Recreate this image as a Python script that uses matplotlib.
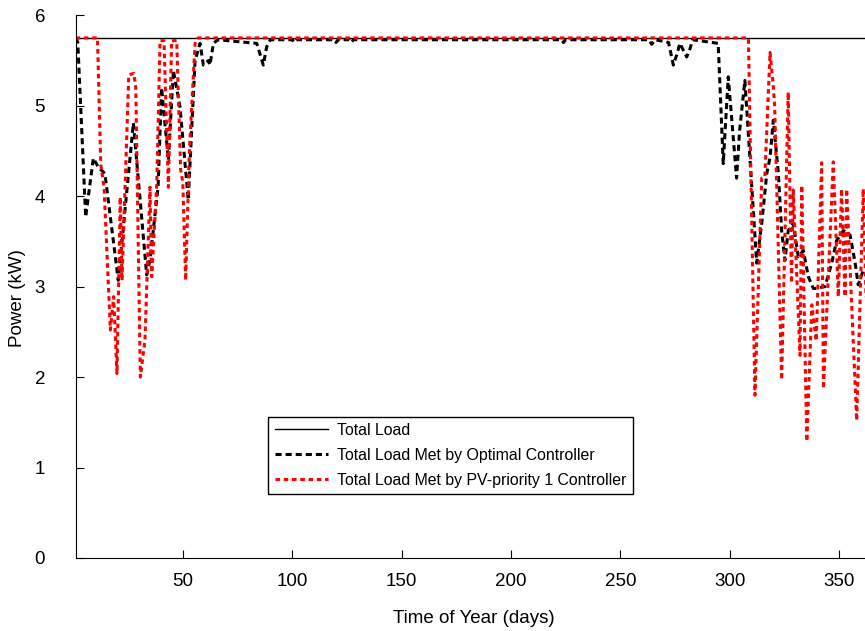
import matplotlib
matplotlib.use('Agg')
import matplotlib.pyplot as plt

plt.rcParams['font.family'] = ['Liberation Sans', 'DejaVu Sans']

# total load (constant)
load_days = [1, 365]
load_kw = [5.75, 5.75]

# optimal controller
opt_days = [1, 2, 5.6, 9.1, 11.4, 14.4, 20.5, 27.4, 33.5, 35, 38.7, 40.3, 43.4, 45.7,
            48.7, 52.5, 55.6, 57.9, 59.4, 61.7, 62.4, 64, 66, 83.8, 86.8, 88.3, 90,
            100, 101, 102, 119, 120, 121, 126, 127, 128, 223, 224, 225, 263, 264.3,
            266, 272, 274.2, 275.7, 277.2, 280.3, 281.8, 283, 294.7, 297, 299.3,
            303.1, 304.5, 306.9, 312.3, 314.6, 316.9, 318.4, 319.9, 322.2, 323.7,
            325.2, 326.7, 329, 331.3, 333.6, 335.9, 338.2, 339, 343.5, 346.6, 348.8,
            351.9, 355, 357.3, 358.7, 361, 365]
opt_kw = [5.75, 5.7, 3.77, 4.42, 4.32, 4.25, 3.07, 4.81, 3.13, 3.3, 4.1, 5.2, 4.4, 5.39,
          4.99, 3.96, 5.5, 5.69, 5.45, 5.5, 5.45, 5.69, 5.73, 5.69, 5.45, 5.65, 5.73,
          5.73, 5.70, 5.73, 5.73, 5.70, 5.73, 5.73, 5.70, 5.73, 5.73, 5.70, 5.73, 5.73, 5.68,
          5.73, 5.70, 5.45, 5.56, 5.69, 5.54, 5.63, 5.73, 5.69, 4.36, 5.32,
          4.2, 4.73, 5.28, 3.26, 3.7, 4.25, 4.43, 4.84, 4.25, 3.62,
          3.29, 3.62, 3.7, 3.33, 3.4, 3.11, 2.98, 2.98, 3.0, 3.26, 3.51,
          3.62, 3.57, 3.26, 3.02, 3.18, 3.3]

# PV-priority 1 controller
pv_days = [1, 11, 12.5, 14, 16.9, 18.4, 19.9, 21.4, 22.2, 25.3, 27.6, 28.5, 30.6, 32.7,
           35, 35.8, 38.1, 39.6, 41.4, 43.4, 44.9, 47.2, 49, 50, 51.3, 53, 55.6, 57,
           308.5, 311.5, 314.6, 316, 318.4, 319.9, 320.5, 323.7, 326.7, 328.2, 329,
           332.1, 332.9, 335.2, 337.5, 339.5, 342, 342.8, 347.3, 349.6, 351.1, 352.7,
           353.4, 358, 361, 362.5, 365]
pv_kw = [5.75, 5.75, 4.35, 4.1, 2.52, 2.89, 2.04, 3.99, 3.07, 5.34, 5.36, 5.2, 2.0, 2.41,
         4.1, 3.11, 4.14, 5.72, 5.72, 4.1, 5.72, 5.72, 4.3, 4.15, 3.07, 4.5, 5.69, 5.75,
         5.75, 1.8, 4.2, 4.21, 5.59, 5.21, 5.0, 1.97, 5.15, 3.04, 4.07,
         2.24, 4.12, 1.29, 2.8, 2.4, 4.37, 1.87, 4.38, 2.89, 4.08, 2.89,
         4.08, 1.52, 4.08, 2.65, 3.5]

fig = plt.figure(figsize=(8.65, 6.31), dpi=100)
ax = fig.add_axes([0.0874, 0.1157, 0.9207, 0.860])

ax.plot(load_days, load_kw, '-', color='black', linewidth=1, label='Total Load')
ax.plot(opt_days, opt_kw, color='black', linewidth=2.2, dashes=(2.0, 1.3),
        label='Total Load Met by Optimal Controller')
ax.plot(pv_days, pv_kw, color='red', linewidth=2.2, dashes=(1.5, 1.2),
        label='Total Load Met by PV-priority 1 Controller')

ax.set_xlim(1, 365)
ax.set_ylim(0, 6)
ax.set_xticks([50, 100, 150, 200, 250, 300, 350])
ax.set_yticks([0, 1, 2, 3, 4, 5, 6])
ax.tick_params(direction='in', length=6, labelsize=13.5)
ax.tick_params(axis='x', pad=11)
ax.tick_params(axis='y', pad=22)
ax.spines['top'].set_visible(False)
ax.spines['right'].set_visible(False)
ax.set_xlabel('Time of Year (days)', fontsize=13.5, labelpad=14)
ax.set_ylabel('Power (kW)', fontsize=13.5)
ax.yaxis.set_label_coords(-0.062, 0.479)

leg = ax.legend(loc='lower left', bbox_to_anchor=(0.242, 0.118), fontsize=11.4,
                frameon=True, fancybox=False, framealpha=1, edgecolor='black',
                handlelength=3.4, handletextpad=0.55, labelspacing=0.62,
                borderaxespad=0)
leg.get_frame().set_linewidth(1)

plt.savefig('out.png', dpi=100)
plt.close('all')
